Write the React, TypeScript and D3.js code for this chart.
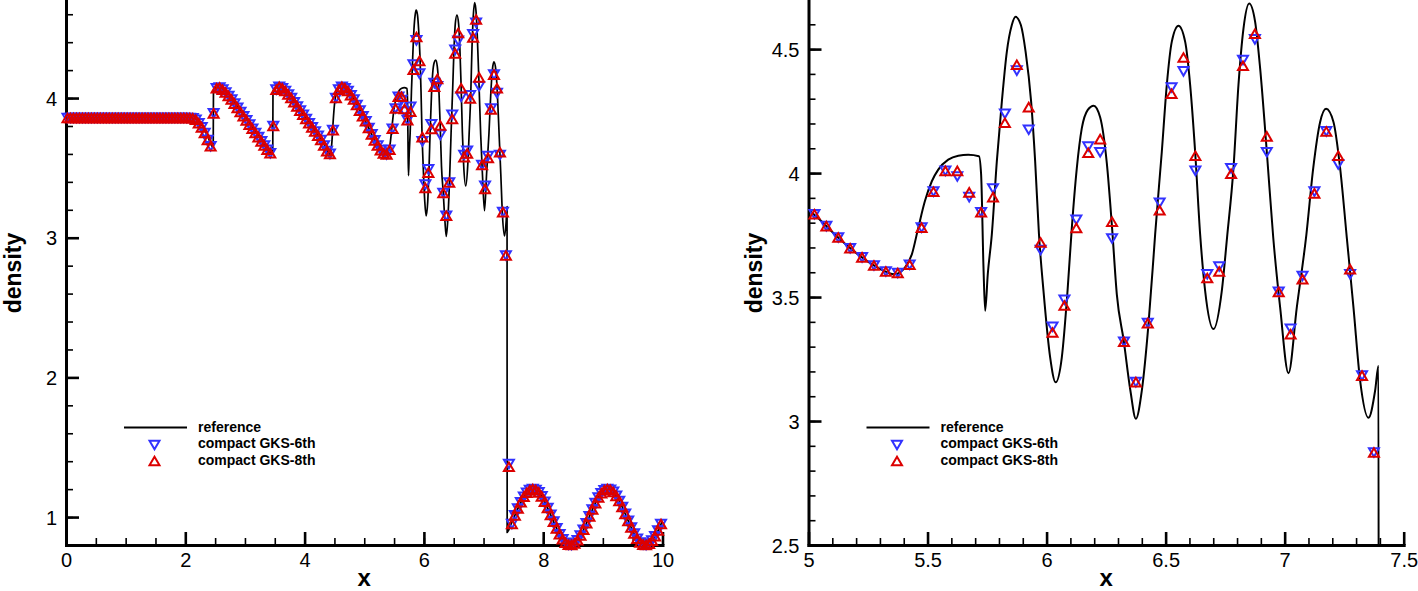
import React, { useRef, useEffect } from 'react';
import * as d3 from 'd3';

// cell width of the 200-cell grid on [0, 10]; markers sit at cell centres
const cellWidth = 0.05;

// cell values for x < 5 (both schemes coincide at this scale)
const smoothCells = [
  3.857, 3.857, 3.857, 3.857, 3.857, 3.857, 3.857, 3.857, 3.857, 3.857,
  3.857, 3.857, 3.857, 3.857, 3.857, 3.857, 3.857, 3.857, 3.857, 3.857,
  3.857, 3.857, 3.857, 3.857, 3.857, 3.857, 3.857, 3.857, 3.857, 3.857,
  3.857, 3.857, 3.857, 3.857, 3.857, 3.857, 3.857, 3.857, 3.857, 3.857,
  3.857, 3.857,
  3.855, 3.845, 3.82, 3.79, 3.75, 3.70, 3.655, 3.89, 4.07, 4.075,
  4.06, 4.04, 4.015, 3.99, 3.96, 3.93, 3.90, 3.87, 3.84, 3.81,
  3.78, 3.75, 3.72, 3.69, 3.66, 3.63, 3.605, 3.80, 4.06, 4.08,
  4.07, 4.05, 4.025, 4.0, 3.97, 3.94, 3.91, 3.88, 3.85, 3.82,
  3.79, 3.76, 3.73, 3.70, 3.66, 3.62, 3.60, 3.77, 4.0, 4.06,
  4.08, 4.07, 4.05, 4.02, 3.99, 3.95, 3.91, 3.87,
];

// x = 5.025 ... 7.375
const gks6Mid = [
  3.834, 3.786, 3.74, 3.697, 3.66, 3.627, 3.603, 3.597, 3.63, 3.78,
  3.925, 4.009, 3.986, 3.903, 3.842, 3.938, 4.239, 4.413, 4.175, 3.69,
  3.38, 3.489, 3.812, 4.107, 4.084, 3.736, 3.32, 3.157, 3.395, 3.88,
  4.345, 4.41, 4.009, 3.592, 3.623, 4.019, 4.456, 4.539, 4.084, 3.521,
  3.372, 3.585, 3.925, 4.168, 4.035, 3.592, 3.183, 2.873,
];
const gks8Mid = [
  3.834, 3.786, 3.74, 3.697, 3.66, 3.627, 3.603, 3.597, 3.63, 3.78,
  3.925, 4.009, 4.009, 3.922, 3.842, 3.903, 4.203, 4.437, 4.266, 3.72,
  3.357, 3.466, 3.779, 4.082, 4.137, 3.804, 3.32, 3.157, 3.395, 3.85,
  4.32, 4.466, 4.07, 3.577, 3.603, 3.997, 4.433, 4.562, 4.148, 3.521,
  3.35, 3.572, 3.918, 4.168, 4.07, 3.612, 3.183, 2.873,
];
// x = 7.425, inside the shock
const shockCell6 = 1.38;
const shockCell8 = 1.36;
// x = 7.475 ... 9.975
const preShockCells = [
  0.95, 1.012, 1.061, 1.106, 1.145, 1.174, 1.193, 1.200, 1.194, 1.177,
  1.148, 1.110, 1.065, 1.016, 0.967, 0.919, 0.877, 0.841, 0.816, 0.802,
  0.801, 0.811, 0.834, 0.868, 0.909, 0.956, 1.005, 1.054, 1.100, 1.140,
  1.171, 1.192, 1.200, 1.196, 1.180, 1.152, 1.115, 1.072, 1.023, 0.973,
  0.925, 0.882, 0.845, 0.818, 0.803, 0.800, 0.810, 0.831, 0.863, 0.904,
  0.950,
];

const gks6 = [...smoothCells, ...gks6Mid, shockCell6, ...preShockCells];
const gks8 = [...smoothCells, ...gks8Mid, shockCell8, ...preShockCells];

// reference solution behind the shock
const refX = [
  0, 2.10, 2.20, 2.30, 2.38, 2.44, 2.468, 2.472, 2.53, 2.60,
  2.70, 2.80, 2.90, 3.00, 3.10, 3.20, 3.30, 3.40, 3.466, 3.47,
  3.55, 3.60, 3.70, 3.80, 3.90, 4.00, 4.10, 4.20, 4.30, 4.38,
  4.42, 4.44, 4.46, 4.48, 4.50, 4.53, 4.57, 4.63, 4.70, 4.80,
  4.90, 5.00, 5.05, 5.10, 5.15, 5.20, 5.25, 5.30, 5.36, 5.405,
  5.434, 5.461, 5.489, 5.518, 5.545, 5.587, 5.629, 5.671, 5.716, 5.725,
  5.735, 5.742, 5.753, 5.770, 5.791, 5.812, 5.833, 5.854, 5.870, 5.892,
  5.912, 5.935, 5.952, 5.968, 5.987, 6.015, 6.038, 6.064, 6.088, 6.106,
  6.127, 6.148, 6.173, 6.198, 6.225, 6.253, 6.275, 6.295, 6.324, 6.352,
  6.375, 6.40, 6.428, 6.449, 6.456, 6.484, 6.505, 6.526, 6.554, 6.582,
  6.603, 6.624, 6.645, 6.666, 6.701, 6.736, 6.758, 6.785, 6.806, 6.827,
  6.851, 6.876, 6.897, 6.925, 6.952, 6.981, 7.016, 7.051, 7.091, 7.12,
  7.149, 7.174, 7.205, 7.233, 7.261, 7.289, 7.317, 7.352, 7.38, 7.394,
  7.396,
];
const refY = [
  3.857, 3.857, 3.845, 3.79, 3.72, 3.66, 3.645, 4.04, 4.08, 4.07,
  4.035, 3.985, 3.925, 3.865, 3.805, 3.745, 3.68, 3.62, 3.60, 4.05,
  4.08, 4.08, 4.045, 3.99, 3.93, 3.87, 3.81, 3.75, 3.69, 3.625,
  3.598, 3.61, 3.70, 3.84, 3.95, 4.035, 4.07, 4.08, 4.065, 4.01,
  3.935, 3.852, 3.81, 3.762, 3.718, 3.678, 3.643, 3.614, 3.592, 3.619,
  3.672, 3.779, 3.887, 3.967, 4.014, 4.054, 4.07, 4.074, 4.068, 3.995,
  3.619, 3.445, 3.592, 3.753, 4.047, 4.287, 4.489, 4.597, 4.630, 4.597,
  4.489, 4.289, 4.047, 3.753, 3.525, 3.257, 3.156, 3.257, 3.525, 3.779,
  4.02, 4.181, 4.255, 4.272, 4.225, 4.04, 3.78, 3.511, 3.324, 3.123,
  3.009, 3.123, 3.391, 3.659, 3.753, 4.086, 4.356, 4.53, 4.594, 4.53,
  4.356, 4.086, 3.753, 3.525, 3.371, 3.525, 3.74, 4.02, 4.356, 4.583,
  4.684, 4.61, 4.422, 4.086, 3.74, 3.458, 3.193, 3.458, 3.75, 4.02,
  4.206, 4.259, 4.206, 4.02, 3.74, 3.458, 3.163, 3.013, 3.123, 3.223,
  0.89,
];
// reference ahead of the shock, x = 7.45 ... 10.0
const preShockRefStart = 7.45;
const preShockRef = [
  0.938, 0.987, 1.037, 1.084, 1.126, 1.161, 1.185, 1.198, 1.199, 1.187,
  1.164, 1.130, 1.088, 1.041, 0.992, 0.942, 0.897, 0.857, 0.827, 0.807,
  0.800, 0.805, 0.822, 0.850, 0.886, 0.931, 0.980, 1.030, 1.078, 1.121,
  1.157, 1.183, 1.197, 1.199, 1.189, 1.167, 1.135, 1.094, 1.048, 0.998,
  0.949, 0.902, 0.862, 0.830, 0.810, 0.800, 0.804, 0.819, 0.845, 0.881,
  0.925, 0.974,
];

const legendLabels = ['reference', 'compact GKS-6th', 'compact GKS-8th'];

const leftXTicks = [0, 2, 4, 6, 8, 10];
const leftYTicks = [1, 2, 3, 4];
const rightXTicks = [5, 5.5, 6, 6.5, 7, 7.5];
const rightYTicks = [2.5, 3, 3.5, 4, 4.5];

const ShuOsherChart = () => {
  const svgRef = useRef<SVGSVGElement | null>(null);

  useEffect(() => {
    const width = 1418;
    const height = 591;
    const top = 0;
    const bottom = 545;
    const font = '"Liberation Sans", Arial, Helvetica, sans-serif';
    const blue = '#3232ff';
    const red = '#dc0000';
    const downTri = 'M-5,-4.3L5,-4.3L0,4.3Z';
    const upTri = 'M-5,4.3L5,4.3L0,-4.3Z';

    const svg = d3.select(svgRef.current)
      .attr('width', width)
      .attr('height', height);
    svg.selectAll('*').remove();

    const refPoints: [number, number][] = refX.map((x, i) => [x, refY[i]] as [number, number])
      .concat(preShockRef.map((y, i) => [preShockRefStart + i * cellWidth, y] as [number, number]));
    const cellX = (i: number) => (i + 0.5) * cellWidth;

    const panels = [
      {
        id: 'left', xDomain: [0, 10], yDomain: [0.8, 4.702], left: 66, right: 662.5,
        xMajor: leftXTicks, xMinor: d3.range(0, 10.001, 0.5),
        yMajor: leftYTicks, yMinor: d3.range(0.8, 4.69, 0.2),
        yLabelX: 21, refWidth: 1.7,
      },
      {
        id: 'right', xDomain: [5, 7.5], yDomain: [2.5, 4.698], left: 808.5, right: 1403.7,
        xMajor: rightXTicks, xMinor: d3.range(5, 7.5001, 0.1),
        yMajor: rightYTicks, yMinor: d3.range(2.5, 4.69, 0.1),
        yLabelX: 762, refWidth: 2,
      },
    ];

    panels.forEach((p) => {
      const g = svg.append('g');
      const x = d3.scaleLinear().domain(p.xDomain).range([p.left, p.right]);
      const y = d3.scaleLinear().domain(p.yDomain).range([bottom, top]);

      g.append('clipPath').attr('id', `clip-${p.id}`)
        .append('rect')
        .attr('x', p.left).attr('y', top)
        .attr('width', p.right - p.left).attr('height', bottom - top);

      // axes
      const xAxis = g.append('g').attr('transform', `translate(0,${bottom})`);
      xAxis.append('g')
        .call(d3.axisBottom(x).tickValues(p.xMinor).tickSize(-7).tickFormat(() => ''))
        .call(a => a.select('.domain').remove())
        .selectAll('.tick line').attr('stroke-width', 1.6);
      const xMaj = xAxis.append('g')
        .call(d3.axisBottom(x).tickValues(p.xMajor).tickSizeInner(-13).tickSizeOuter(0).tickFormat(d3.format('~g')));

      const yAxis = g.append('g').attr('transform', `translate(${p.left},0)`);
      yAxis.append('g')
        .call(d3.axisLeft(y).tickValues(p.yMinor).tickSize(-7).tickFormat(() => ''))
        .call(a => a.select('.domain').remove())
        .selectAll('.tick line').attr('stroke-width', 1.6);
      const yMaj = yAxis.append('g')
        .call(d3.axisLeft(y).tickValues(p.yMajor).tickSizeInner(-13).tickSizeOuter(0).tickFormat(d3.format('~g')));

      [xMaj, yMaj].map((axis) => {
        axis.selectAll('.domain')
          .attr('stroke', '#000')
          .attr('stroke-width', 3)
          .attr('stroke-linecap', 'square');
        axis.selectAll('.tick line')
          .attr('stroke', '#000')
          .attr('stroke-width', 2.6);
        axis.selectAll('.tick text')
          .attr('fill', '#000')
          .style('font-family', font)
          .style('font-size', '20px');
      });
      xMaj.selectAll('.tick text').attr('y', 22).attr('dy', null);
      yMaj.selectAll('.tick text').attr('x', -9).attr('dy', '0.36em');

      // axis titles
      g.append('text')
        .attr('x', (p.left + p.right) / 2)
        .attr('y', 586)
        .attr('text-anchor', 'middle')
        .style('font-family', font)
        .style('font-weight', 'bold')
        .style('font-size', '24px')
        .text('x');
      g.append('text')
        .attr('transform', `translate(${p.yLabelX},273) rotate(-90)`)
        .attr('text-anchor', 'middle')
        .style('font-family', font)
        .style('font-weight', 'bold')
        .style('font-size', '23px')
        .text('density');

      // reference curve
      const line = d3.line<[number, number]>()
        .x(d => x(d[0]))
        .y(d => y(d[1]))
        .curve(d3.curveMonotoneX);
      g.append('path')
        .datum(refPoints.filter(d => d[0] >= p.xDomain[0] - 0.3 && d[0] <= p.xDomain[1] + 0.3))
        .attr('d', line)
        .attr('fill', 'none')
        .attr('stroke', '#000')
        .attr('stroke-width', p.refWidth)
        .attr('stroke-linejoin', 'round')
        .attr('clip-path', `url(#clip-${p.id})`);

      // scheme markers
      const inPanel = (v: number, i: number) =>
        cellX(i) >= p.xDomain[0] && cellX(i) <= p.xDomain[1] && v >= p.yDomain[0] - 0.05;
      const series = [
        { values: gks6, shape: downTri, color: blue },
        { values: gks8, shape: upTri, color: red },
      ];
      series.forEach((s) => {
        const pts = s.values.map((v, i) => ({ v, i })).filter(d => inPanel(d.v, d.i));
        g.append('g').selectAll('path')
          .data(pts)
          .enter().append('path')
          .attr('d', s.shape)
          .attr('transform', d => `translate(${x(cellX(d.i))},${y(d.v)})`)
          .attr('fill', 'none')
          .attr('stroke', s.color)
          .attr('stroke-width', 2);
      });

      // legend
      const lg = g.append('g').attr('transform', `translate(${p.left + 58},0)`);
      lg.append('line')
        .attr('x1', 0).attr('x2', 63)
        .attr('y1', 427.5).attr('y2', 427.5)
        .attr('stroke', '#000').attr('stroke-width', 2);
      lg.append('path').attr('d', downTri).attr('transform', 'translate(30.5,445)')
        .attr('fill', 'none').attr('stroke', blue).attr('stroke-width', 2);
      lg.append('path').attr('d', upTri).attr('transform', 'translate(30.5,461)')
        .attr('fill', 'none').attr('stroke', red).attr('stroke-width', 2);
      lg.selectAll('text.legend')
        .data(legendLabels)
        .enter().append('text')
        .attr('class', 'legend')
        .attr('x', 74)
        .attr('y', (d, i) => 432 + i * 16.3)
        .style('font-family', font)
        .style('font-weight', 'bold')
        .style('font-size', '14px')
        .text(d => d);
    });
  }, []);

  return <svg ref={svgRef} style={{ position: 'absolute', left: 0, top: 0 }}></svg>;
};

export default function App() {
  return <ShuOsherChart />;
}
